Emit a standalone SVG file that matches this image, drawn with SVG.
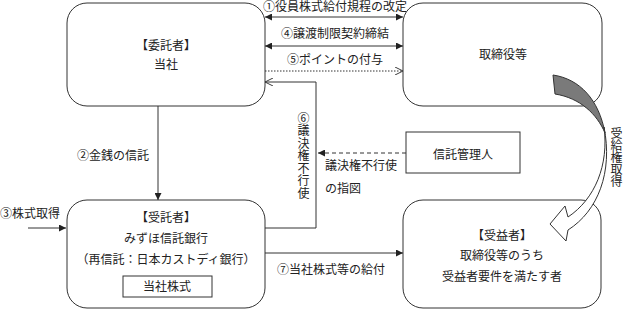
<svg xmlns="http://www.w3.org/2000/svg" width="623" height="310" viewBox="0 0 623 310">
<style>
text{font-family:"Liberation Serif","Noto Sans CJK JP",serif;font-size:12px;fill:#222}
.c{text-anchor:middle}
.v{writing-mode:vertical-rl;text-orientation:upright}
.box{fill:#fff;stroke:#333;stroke-width:1}
.ln{fill:none;stroke:#333;stroke-width:1}
.dot{fill:none;stroke:#333;stroke-width:1;stroke-dasharray:1.5 1.5}
.dash{fill:none;stroke:#333;stroke-width:1;stroke-dasharray:4 3}
</style>
<defs>
<marker id="fa" viewBox="0 0 10 10" refX="10" refY="5" markerWidth="7" markerHeight="7" markerUnits="userSpaceOnUse" orient="auto-start-reverse">
<path d="M0,0 L10,5 L0,10 Z" fill="#222"/>
</marker>
<marker id="oa" viewBox="0 0 10 10" refX="10" refY="5" markerWidth="8" markerHeight="8" markerUnits="userSpaceOnUse" orient="auto">
<path d="M0,0 L10,5 L0,10" fill="none" stroke="#333" stroke-width="1.2"/>
</marker>
</defs>

<g id="connectors">
<line class="ln" x1="265" y1="17" x2="403" y2="17" marker-start="url(#fa)" marker-end="url(#fa)"/>
<line class="ln" x1="265" y1="46" x2="403" y2="46" marker-start="url(#fa)" marker-end="url(#fa)"/>
<line class="dot" x1="265" y1="71" x2="403" y2="71" marker-end="url(#oa)"/>
<path class="ln" d="M265,228 H316 V82 H265" marker-end="url(#oa)"/>
<line class="ln" x1="158" y1="106" x2="158" y2="200" marker-end="url(#fa)"/>
<line class="ln" x1="28" y1="228" x2="66" y2="228" marker-end="url(#fa)"/>
<line class="ln" x1="265" y1="253" x2="403" y2="253" marker-end="url(#fa)"/>
<line class="dash" x1="406" y1="153" x2="318" y2="153" marker-end="url(#fa)"/>
<text class="c" x="335" y="11">①役員株式給付規程の改定</text>
<text class="c" x="335" y="38">④譲渡制限契約締結</text>
<text class="c" x="335" y="64">⑤ポイントの付与</text>
<text x="77" y="160">②金銭の信託</text>
<text x="0" y="218">③株式取得</text>
<text x="277" y="274">⑦当社株式等の給付</text>
<text x="325" y="170">議決権不行使</text>
<text x="325" y="193">の指図</text>
<text class="v" x="302" y="112" letter-spacing="0.5">⑥議決権不行使</text>
</g>

<g id="n_itakusha">
<rect class="box" x="67" y="3" width="198" height="103" rx="20"/>
<text class="c" x="166" y="50">【委託者】</text>
<text class="c" x="166" y="69">当社</text>
</g>

<g id="n_torishimariyaku">
<rect class="box" x="403" y="3" width="199" height="103" rx="20"/>
<text class="c" x="503" y="59">取締役等</text>
</g>

<g id="n_jutakusha">
<rect class="box" x="67" y="200" width="198" height="108" rx="20"/>
<text class="c" x="166" y="222">【受託者】</text>
<text class="c" x="166" y="243">みずほ信託銀行</text>
<text class="c" x="166" y="264">（再信託：日本カストディ銀行）</text>
<rect class="box" x="123" y="276" width="89" height="21"/>
<text class="c" x="167" y="291">当社株式</text>
</g>

<g id="n_jueki">
<rect class="box" x="403" y="200" width="198" height="108" rx="20"/>
<text class="c" x="502" y="240">【受益者】</text>
<text class="c" x="502" y="260">取締役等のうち</text>
<text class="c" x="502" y="281">受益者要件を満たす者</text>
</g>

<g id="n_shintakukanri">
<rect class="box" x="406" y="132" width="114" height="41"/>
<text class="c" x="463" y="159">信託管理人</text>
</g>

<g id="n_curved_arrow">
<path d="M553,75 C580,79 599,100 605,133 C597,114 580,98 555,94 Z" fill="#7a7a7a" stroke="#333" stroke-width="1"/>
<path d="M604,127 C609,165 595,199 568,217 L565,206 L550,224 L566,241 L568,230 C598,211 613,172 604,127 Z" fill="#fff" stroke="#333" stroke-width="1"/>
<text class="v" x="615" y="127" font-size="11.5">受給権取得</text>
</g>
</svg>
